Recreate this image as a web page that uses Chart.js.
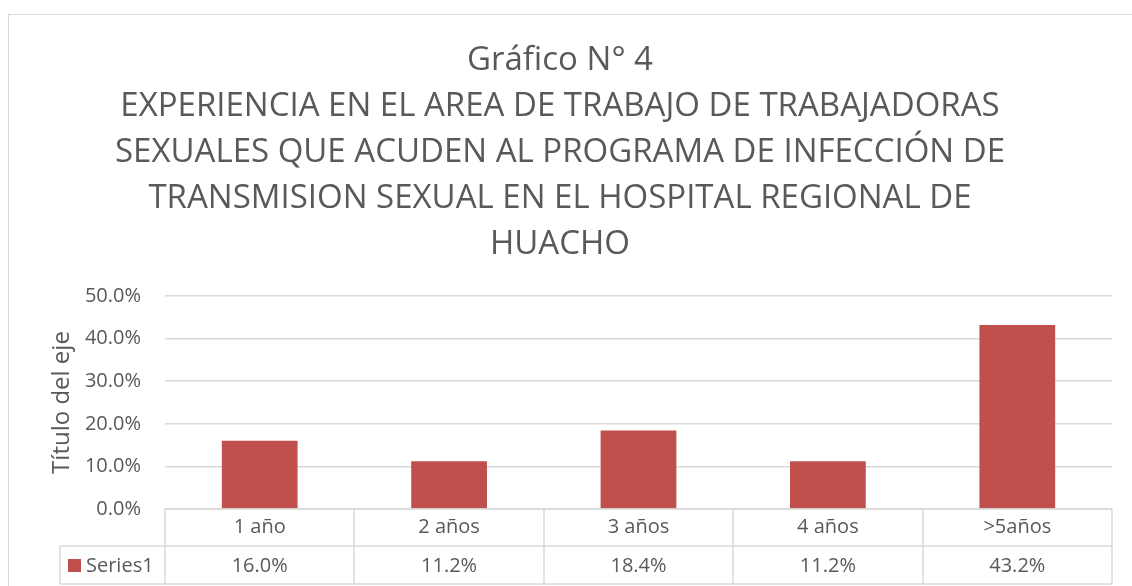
<!DOCTYPE html>
<html>
<head>
<meta charset="utf-8">
<script src="https://cdn.jsdelivr.net/npm/chart.js@4.4.1/dist/chart.umd.min.js"></script>
<style>
  html, body { margin: 0; padding: 0; background: #fff; }
  #wrap { width: 1132px; height: 586px; position: relative; }
</style>
</head>
<body>
<div id="wrap"><canvas id="chart" width="1132" height="586"></canvas></div>
<script>
const categories = ['1 año', '2 años', '3 años', '4 años', '>5años'];
const seriesName = 'Series1';
const seriesValues = [16.0, 11.2, 18.4, 11.2, 43.2];
const titleLines = [
    'Gráfico N° 4',
    'EXPERIENCIA EN EL AREA DE TRABAJO DE TRABAJADORAS',
    'SEXUALES QUE ACUDEN AL PROGRAMA DE INFECCIÓN DE',
    'TRANSMISION SEXUAL EN EL HOSPITAL REGIONAL DE',
    'HUACHO'
];

const textColor = '#595959';
const lineColor = '#d9d9d9';
const barColor = '#C0504D';
const fontFamily = "'Open Sans', 'Liberation Sans', sans-serif";

// borde exterior + tabla de datos debajo del eje
const dataTablePlugin = {
    id: 'dataTable',
    beforeDraw(chart) {
        const ctx = chart.ctx;
        ctx.save();
        ctx.fillStyle = '#fff';
        ctx.fillRect(0, 0, chart.width, chart.height);
        ctx.strokeStyle = lineColor;
        ctx.lineWidth = 1;
        ctx.strokeRect(8.5, 14.5, 1300, 700);
        ctx.restore();
    },
    afterDraw(chart) {
        const ctx = chart.ctx;
        const area = chart.chartArea;
        const x = chart.scales.x;
        const row1 = area.bottom, row2 = row1 + 37, row3 = row2 + 38;
        const legendLeft = 60;
        const step = (area.right - area.left) / categories.length;
        ctx.save();
        ctx.strokeStyle = lineColor;
        ctx.lineWidth = 1.5;
        ctx.beginPath();
        ctx.moveTo(area.left, row1); ctx.lineTo(area.right, row1);
        ctx.moveTo(legendLeft, row2); ctx.lineTo(area.right, row2);
        ctx.moveTo(legendLeft, row3); ctx.lineTo(area.right, row3);
        ctx.moveTo(legendLeft, row2); ctx.lineTo(legendLeft, row3);
        for (let i = 0; i <= categories.length; i++) {
            const px = Math.round(area.left + i * step);
            ctx.moveTo(px, row1); ctx.lineTo(px, row3);
        }
        ctx.stroke();

        ctx.fillStyle = textColor;
        ctx.font = '20px ' + fontFamily;
        ctx.textAlign = 'center';
        ctx.textBaseline = 'middle';
        categories.forEach((c, i) => {
            const cx = x.getPixelForTick(i);
            ctx.fillText(c, cx, (row1 + row2) / 2);
            ctx.fillText(seriesValues[i].toFixed(1) + '%', cx, (row2 + row3) / 2 + 1);
        });
        ctx.fillStyle = barColor;
        ctx.fillRect(68, row2 + 13, 13, 13);
        ctx.fillStyle = textColor;
        ctx.textAlign = 'left';
        ctx.fillText(seriesName, 86, (row2 + row3) / 2 + 1);
        ctx.restore();
    }
};

new Chart(document.getElementById('chart'), {
    type: 'bar',
    data: {
        labels: categories,
        datasets: [{
            label: seriesName,
            data: seriesValues,
            backgroundColor: barColor,
            categoryPercentage: 1.0,
            barPercentage: 0.4
        }]
    },
    options: {
        responsive: false,
        animation: false,
        layout: { padding: { top: 15, left: 8, right: 20, bottom: 69 } },
        plugins: {
            legend: { display: false },
            tooltip: { enabled: false },
            title: {
                display: true,
                text: titleLines,
                color: textColor,
                font: { family: fontFamily, size: 33, weight: 'normal', lineHeight: 1.394 },
                padding: { top: 23, bottom: 28 }
            }
        },
        scales: {
            x: {
                grid: { display: false },
                border: { display: false },
                ticks: { display: false }
            },
            y: {
                min: 0,
                max: 50,
                ticks: {
                    stepSize: 10,
                    padding: 24,
                    color: textColor,
                    font: { family: fontFamily, size: 20 },
                    callback: v => v.toFixed(1) + '%'
                },
                grid: { color: lineColor, lineWidth: 1.5, drawTicks: false },
                border: { display: false },
                title: {
                    display: true,
                    text: 'Título del eje',
                    color: textColor,
                    font: { family: fontFamily, size: 24 },
                    padding: { top: 40, bottom: 0 }
                },
                afterFit(axis) { axis.width = 157; }
            }
        }
    },
    plugins: [dataTablePlugin]
});
</script>
</body>
</html>
